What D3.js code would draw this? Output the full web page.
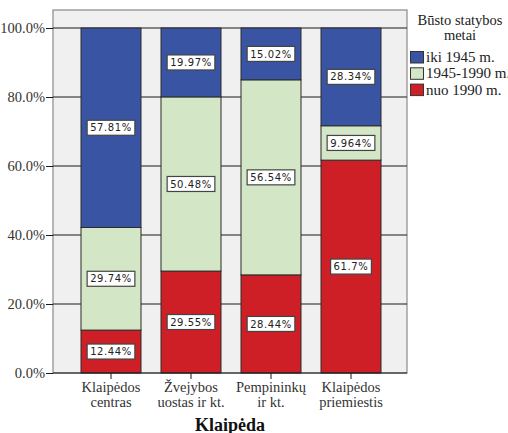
<!DOCTYPE html>
<html>
<head>
<meta charset="utf-8">
<script src="https://cdn.jsdelivr.net/npm/d3@7"></script>
<style>
  html, body { margin: 0; padding: 0; background: #ffffff; }
  svg { display: block; }
</style>
</head>
<body>
<svg id="chart" width="508" height="433"></svg>
<script>
// Districts of Klaipėda (two-line labels)
const categories = [
  ["Klaipėdos", "centras"],
  ["Žvejybos", "uostas ir kt."],
  ["Pempininkų", "ir kt."],
  ["Klaipėdos", "priemiestis"]
];
// Housing construction period shares (%)
const seriesNames = ["iki 1945 m.", "1945-1990 m.", "nuo 1990 m."];
const iki1945 = [57.81, 19.97, 15.02, 28.34];
const m1945_1990 = [29.74, 50.48, 56.54, 9.964];
const nuo1990 = [12.44, 29.55, 28.44, 61.7];
const valueLabels = [
  ["57.81%", "19.97%", "15.02%", "28.34%"],
  ["29.74%", "50.48%", "56.54%", "9.964%"],
  ["12.44%", "29.55%", "28.44%", "61.7%"]
];
const yTicks = [0, 20, 40, 60, 80, 100];
const yTickLabels = ["0.0%", "20.0%", "40.0%", "60.0%", "80.0%", "100.0%"];
const colors = ["#3a54a4", "#d3e7c6", "#cf1f26"];

const SERIF = '"Liberation Serif", "Times New Roman", serif';
const MONO = '"DejaVu Sans", sans-serif';

const svg = d3.select("#chart");
const frame = { left: 53, top: 10, right: 407, bottom: 373 };

const x = d3.scaleBand()
  .domain(d3.range(categories.length))
  .range([71, 391])
  .paddingInner(0.25)
  .paddingOuter(0.125);
const y = d3.scaleLinear().domain([0, 100]).range([373, 28]);

// Plot background
svg.append("rect")
  .attr("x", frame.left).attr("y", frame.top)
  .attr("width", frame.right - frame.left)
  .attr("height", frame.bottom - frame.top)
  .attr("fill", "#eff0ef")
  .attr("stroke", "#8a8a8a")
  .attr("stroke-width", 1.2);

// Gridlines
svg.append("g").selectAll("line").data(yTicks.slice(1)).join("line")
  .attr("x1", frame.left).attr("x2", frame.right)
  .attr("y1", d => y(d)).attr("y2", d => y(d))
  .attr("stroke", "#1a1a1a").attr("stroke-width", 1);

// Stacked segments, bottom to top: nuo 1990, 1945-1990, iki 1945
const stackData = categories.map((c, i) => ({ i, nuo: nuo1990[i], mid: m1945_1990[i], iki: iki1945[i] }));
const layers = d3.stack().keys(["nuo", "mid", "iki"])(stackData);
const layerColor = { nuo: colors[2], mid: colors[1], iki: colors[0] };
const layerLabelRow = { nuo: 2, mid: 1, iki: 0 };

layers.forEach(layer => {
  svg.append("g").selectAll("rect").data(layer).join("rect")
    .attr("x", d => x(d.data.i))
    .attr("width", x.bandwidth())
    .attr("y", d => y(Math.min(d[1], 100)))
    .attr("height", d => y(d[0]) - y(Math.min(d[1], 100)))
    .attr("fill", layerColor[layer.key])
    .attr("stroke", "#2b2b2b")
    .attr("stroke-width", 1);
});

// Value labels in white boxes
layers.forEach(layer => {
  const row = layerLabelRow[layer.key];
  const g = svg.append("g");
  layer.forEach(d => {
    const cx = x(d.data.i) + x.bandwidth() / 2;
    const cy = (y(d[0]) + y(Math.min(d[1], 100))) / 2;
    const txt = valueLabels[row][d.data.i];
    const lg = g.append("g");
    const t = lg.append("text")
      .attr("x", cx).attr("y", cy + 3.6)
      .attr("text-anchor", "middle")
      .style("font-family", MONO)
      .style("font-size", "10px")
      .style("letter-spacing", "0.6px")
      .attr("fill", "#222")
      .text(txt);
    const w = t.node().getComputedTextLength() + 6;
    lg.insert("rect", "text")
      .attr("x", cx - w / 2).attr("y", cy - 7.5)
      .attr("width", w).attr("height", 15)
      .attr("fill", "#ffffff")
      .attr("stroke", "#444")
      .attr("stroke-width", 1.2);
  });
});

// Y axis
const yAxis = d3.axisLeft(y).tickValues(yTicks).tickSize(7).tickPadding(1)
  .tickFormat((d, i) => yTickLabels[i]);
const gy = svg.append("g").attr("transform", `translate(${frame.left},0)`).call(yAxis);
gy.select(".domain").remove();
gy.selectAll(".tick line").attr("stroke", "#1a1a1a");
gy.selectAll(".tick text")
  .style("font-family", SERIF)
  .style("font-size", "14.5px")
  .attr("fill", "#333");

// Bottom axis line and ticks
svg.append("line")
  .attr("x1", frame.left).attr("x2", frame.right)
  .attr("y1", y(0)).attr("y2", y(0))
  .attr("stroke", "#1a1a1a").attr("stroke-width", 1.2);
const xAxis = d3.axisBottom(x).tickSize(6).tickFormat(() => "");
const gx = svg.append("g").attr("transform", `translate(0,${y(0)})`).call(xAxis);
gx.select(".domain").remove();
gx.selectAll(".tick line").attr("stroke", "#1a1a1a");
gx.selectAll(".tick").each(function (d) {
  const t = d3.select(this).append("text")
    .attr("text-anchor", "middle")
    .style("font-family", SERIF)
    .style("font-size", "14.5px")
    .attr("fill", "#333");
  categories[d].forEach((line, k) => {
    t.append("tspan").attr("x", 0).attr("y", 19 + k * 14.5).text(line);
  });
});

// X axis title
svg.append("text")
  .attr("x", 230).attr("y", 431)
  .attr("text-anchor", "middle")
  .style("font-family", SERIF)
  .style("font-weight", "bold")
  .style("font-size", "18px")
  .attr("fill", "#111")
  .text("Klaipėda");

// Legend
const legend = svg.append("g");
legend.append("text")
  .attr("x", 460).attr("y", 25)
  .attr("text-anchor", "middle")
  .style("font-family", SERIF)
  .style("font-size", "14.5px").attr("fill", "#222")
  .text("Būsto statybos");
legend.append("text")
  .attr("x", 460).attr("y", 40)
  .attr("text-anchor", "middle")
  .style("font-family", SERIF)
  .style("font-size", "14.5px").attr("fill", "#222")
  .text("metai");
seriesNames.forEach((name, i) => {
  const yy = 51.5 + i * 16.3;
  legend.append("rect")
    .attr("x", 410.5).attr("y", yy)
    .attr("width", 13).attr("height", 11.5)
    .attr("fill", colors[i])
    .attr("stroke", "#333").attr("stroke-width", 1);
  legend.append("text")
    .attr("x", 426).attr("y", yy + 10.5)
    .style("font-family", SERIF)
    .style("font-size", "15px").attr("fill", "#222")
    .text(name);
});
</script>
</body>
</html>
